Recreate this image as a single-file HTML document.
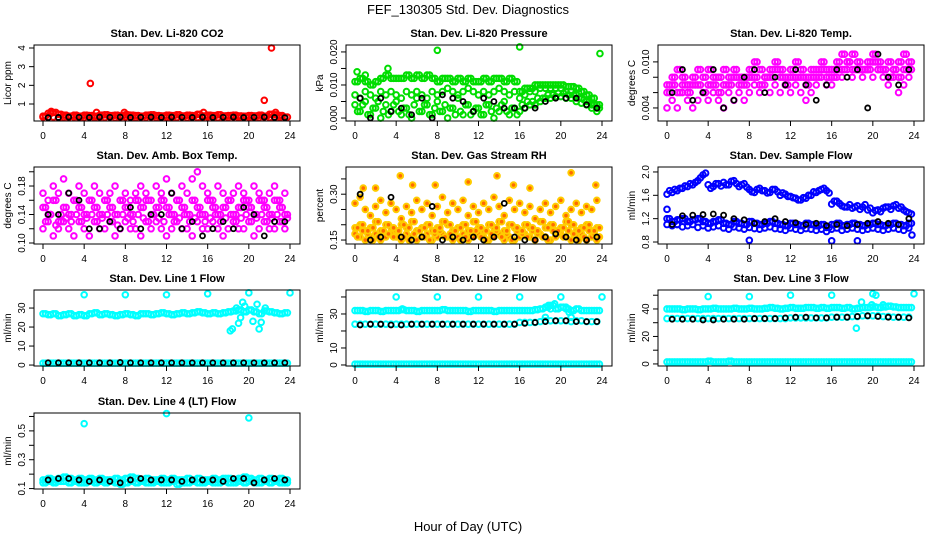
<!DOCTYPE html>
<html><head><meta charset="utf-8"><style>
html,body{margin:0;padding:0;background:#fff;width:936px;height:540px;overflow:hidden}
svg{display:block;font-family:"Liberation Sans",sans-serif}
</style></head><body>
<svg id="chart" width="936" height="540" viewBox="0 0 936 540">
<text x="468" y="14" text-anchor="middle" font-size="13">FEF_130305  Std. Dev. Diagnostics</text>
<text x="468" y="531" text-anchor="middle" font-size="13">Hour of Day (UTC)</text>
</svg>
<script>
const hours = [0,0.5,1,1.5,2,2.5,3,3.5,4,4.5,5,5.5,6,6.5,7,7.5,8,8.5,9,9.5,10,10.5,11,11.5,12,12.5,13,13.5,14,14.5,15,15.5,16,16.5,17,17.5,18,18.5,19,19.5,20,20.5,21,21.5,22,22.5,23,23.5];
const hoursB = [0.25,0.75,1.25,1.75,2.25,2.75,3.25,3.75,4.25,4.75,5.25,5.75,6.25,6.75,7.25,7.75,8.25,8.75,9.25,9.75,10.25,10.75,11.25,11.75,12.25,12.75,13.25,13.75,14.25,14.75,15.25,15.75,16.25,16.75,17.25,17.75,18.25,18.75,19.25,19.75,20.25,20.75,21.25,21.75,22.25,22.75,23.25,23.75];
const blackHours = [0.5,1.5,2.5,3.5,4.5,5.5,6.5,7.5,8.5,9.5,10.5,11.5,12.5,13.5,14.5,15.5,16.5,17.5,18.5,19.5,20.5,21.5,22.5,23.5];
const xTicks = [0,4,8,12,16,20,24];

// Panel 1: CO2
const co2A = [0.35,0.5,0.55,0.45,0.4,0.35,0.4,0.35,0.4,0.38,0.35,0.4,0.42,0.38,0.4,0.36,0.42,0.4,0.38,0.35,0.4,0.42,0.38,0.36,0.4,0.38,0.42,0.36,0.4,0.38,0.45,0.36,0.4,0.38,0.42,0.36,0.38,0.4,0.36,0.35,0.38,0.36,0.4,0.35,0.45,0.42,0.38,0.3];
const co2B = [0.3,0.28,0.3,0.27,0.29,0.28,0.3,0.27,0.28,0.3,0.27,0.29,0.28,0.3,0.27,0.28,0.3,0.28,0.27,0.29,0.28,0.3,0.27,0.28,0.29,0.27,0.28,0.3,0.27,0.29,0.28,0.27,0.3,0.28,0.27,0.29,0.28,0.3,0.27,0.28,0.29,0.27,0.28,0.3,0.28,0.27,0.29,0.28];
const co2OutX = [4.6,5.2,7.9,15.6,21.5,22.2,22.6,0.8];
const co2OutY = [2.1,0.55,0.55,0.55,1.2,4.0,0.55,0.6];
const co2Black = [0.27,0.28,0.3,0.29,0.28,0.3,0.29,0.3,0.28,0.29,0.3,0.28,0.3,0.29,0.28,0.3,0.28,0.29,0.3,0.28,0.29,0.3,0.28,0.27];

// Panel 2: Pressure
const presA = [0.011,0.012,0.011,0.01,0.011,0.012,0.013,0.012,0.012,0.012,0.013,0.012,0.013,0.012,0.013,0.012,0.011,0.012,0.012,0.011,0.012,0.011,0.012,0.011,0.011,0.012,0.011,0.012,0.012,0.011,0.012,0.011,0.008,0.009,0.009,0.01,0.01,0.01,0.01,0.01,0.01,0.0095,0.0095,0.009,0.008,0.007,0.006,0.004];
const presB = [0.007,0.006,0.008,0.007,0.006,0.008,0.007,0.008,0.007,0.006,0.008,0.007,0.008,0.007,0.006,0.008,0.007,0.008,0.009,0.008,0.007,0.008,0.009,0.008,0.007,0.008,0.007,0.008,0.009,0.008,0.007,0.008,0.006,0.007,0.008,0.008,0.009,0.009,0.009,0.009,0.009,0.008,0.008,0.007,0.006,0.005,0.004,0.003];
const presC = [0.004,0.002,0.005,0.001,0.003,0.0,0.004,0.002,0.005,0.001,0.003,0.0,0.006,0.002,0.004,0.001,0.005,0.002,0.0,0.003,0.006,0.001,0.004,0.002,0.003,0.001,0.004,0.0,0.002,0.005,0.001,0.003,0.002,0.003,0.004,0.004,0.005,0.006,0.006,0.0065,0.0065,0.006,0.006,0.005,0.0045,0.004,0.003,0.002];
const presD = [0.002,0.004,0.001,0.003,0.005,0.002,0.001,0.004,0.002,0.003,0.001,0.004,0.002,0.004,0.001,0.003,0.002,0.004,0.003,0.001,0.002,0.004,0.001,0.003,0.001,0.004,0.002,0.003,0.004,0.002,0.003,0.001,0.004,0.005,0.005,0.006,0.006,0.007,0.007,0.0075,0.0075,0.007,0.007,0.006,0.0055,0.005,0.004,0.003];
const presOutX = [0.2,8,16,23.8,3.2,1];
const presOutY = [0.014,0.0205,0.0215,0.0195,0.015,0.013];
const presBlack = [0.006,0.0,0.006,0.002,0.003,0.001,0.006,0.0,0.007,0.006,0.005,0.002,0.006,0.005,0.003,0.003,0.003,0.003,0.005,0.006,0.006,0.006,0.004,0.003];

// Panel 3: Li-820 Temp
const tempA = [0.007,0.008,0.009,0.008,0.007,0.008,0.009,0.008,0.009,0.008,0.008,0.009,0.008,0.009,0.008,0.008,0.009,0.01,0.009,0.008,0.009,0.01,0.009,0.008,0.009,0.01,0.009,0.008,0.009,0.009,0.01,0.009,0.009,0.01,0.011,0.01,0.011,0.01,0.009,0.01,0.011,0.01,0.009,0.01,0.009,0.01,0.011,0.01];
const tempB = [0.004,0.005,0.004,0.006,0.005,0.004,0.005,0.006,0.005,0.006,0.005,0.004,0.006,0.005,0.006,0.005,0.006,0.007,0.006,0.007,0.006,0.007,0.006,0.007,0.006,0.007,0.006,0.005,0.006,0.007,0.008,0.007,0.007,0.008,0.008,0.009,0.008,0.009,0.008,0.009,0.008,0.009,0.008,0.007,0.008,0.006,0.007,0.008];
const tempC = [0.006,0.007,0.006,0.007,0.006,0.007,0.007,0.006,0.007,0.007,0.006,0.007,0.007,0.008,0.007,0.007,0.008,0.008,0.007,0.008,0.008,0.009,0.008,0.007,0.008,0.008,0.008,0.007,0.008,0.008,0.009,0.008,0.008,0.009,0.009,0.01,0.009,0.009,0.009,0.009,0.01,0.009,0.009,0.008,0.009,0.008,0.009,0.009];
const tempBlack = [0.006,0.009,0.005,0.006,0.009,0.004,0.005,0.008,0.009,0.006,0.008,0.007,0.009,0.007,0.005,0.007,0.009,0.008,0.009,0.004,0.011,0.008,0.007,0.009];

// Panel 4: Amb Box Temp
const ambA = [0.15,0.14,0.16,0.13,0.15,0.14,0.16,0.15,0.14,0.16,0.15,0.14,0.16,0.15,0.14,0.16,0.15,0.14,0.16,0.15,0.16,0.14,0.15,0.16,0.15,0.14,0.16,0.15,0.14,0.16,0.15,0.14,0.16,0.15,0.14,0.15,0.16,0.14,0.15,0.16,0.15,0.14,0.16,0.15,0.14,0.16,0.15,0.14];
const ambB = [0.12,0.13,0.11,0.12,0.13,0.12,0.11,0.13,0.12,0.11,0.13,0.12,0.12,0.13,0.11,0.12,0.13,0.12,0.12,0.11,0.13,0.12,0.13,0.12,0.11,0.12,0.13,0.12,0.12,0.11,0.13,0.12,0.12,0.13,0.12,0.11,0.12,0.13,0.12,0.12,0.13,0.11,0.12,0.13,0.12,0.12,0.13,0.12];
const ambC = [0.17,0.16,0.18,0.17,0.19,0.17,0.16,0.18,0.17,0.16,0.18,0.17,0.16,0.17,0.18,0.16,0.17,0.16,0.17,0.18,0.17,0.16,0.18,0.17,0.19,0.17,0.16,0.18,0.17,0.19,0.2,0.18,0.17,0.16,0.18,0.17,0.16,0.17,0.18,0.17,0.16,0.18,0.17,0.16,0.17,0.18,0.16,0.17];
const ambD = [0.13,0.14,0.125,0.14,0.135,0.13,0.14,0.13,0.135,0.14,0.13,0.135,0.14,0.13,0.125,0.14,0.135,0.13,0.14,0.135,0.13,0.14,0.135,0.13,0.14,0.13,0.135,0.14,0.13,0.135,0.14,0.13,0.135,0.14,0.13,0.135,0.14,0.13,0.135,0.14,0.13,0.135,0.14,0.13,0.135,0.14,0.13,0.135];
const ambBlack = [0.14,0.14,0.17,0.16,0.12,0.12,0.13,0.12,0.15,0.12,0.14,0.14,0.17,0.12,0.13,0.11,0.12,0.13,0.12,0.15,0.14,0.11,0.13,0.13];

// Panel 5: Gas Stream RH
const rhA = [0.17,0.16,0.15,0.16,0.17,0.15,0.16,0.17,0.16,0.15,0.17,0.16,0.15,0.16,0.17,0.15,0.16,0.17,0.16,0.15,0.16,0.17,0.15,0.16,0.17,0.16,0.15,0.16,0.17,0.15,0.16,0.15,0.16,0.17,0.16,0.15,0.17,0.16,0.15,0.16,0.17,0.16,0.15,0.16,0.17,0.15,0.16,0.15];
const rhB = [0.19,0.2,0.18,0.19,0.21,0.18,0.2,0.19,0.18,0.2,0.19,0.21,0.18,0.19,0.2,0.18,0.19,0.21,0.2,0.18,0.19,0.2,0.18,0.21,0.19,0.18,0.2,0.19,0.21,0.18,0.2,0.19,0.18,0.2,0.19,0.18,0.21,0.19,0.2,0.18,0.19,0.21,0.2,0.18,0.19,0.2,0.18,0.19];
const rhC = [0.27,0.29,0.25,0.23,0.26,0.28,0.24,0.27,0.25,0.22,0.26,0.24,0.28,0.25,0.27,0.23,0.26,0.29,0.24,0.27,0.25,0.28,0.23,0.26,0.24,0.27,0.25,0.29,0.26,0.23,0.28,0.25,0.27,0.24,0.26,0.22,0.25,0.27,0.24,0.26,0.28,0.23,0.25,0.27,0.24,0.26,0.25,0.28];
const rhD = [0.16,0.18,0.17,0.15,0.16,0.18,0.17,0.16,0.18,0.16,0.15,0.17,0.18,0.16,0.15,0.17,0.18,0.16,0.17,0.18,0.15,0.16,0.17,0.18,0.16,0.15,0.17,0.18,0.16,0.17,0.15,0.18,0.17,0.16,0.18,0.17,0.16,0.15,0.18,0.17,0.16,0.18,0.17,0.15,0.16,0.18,0.17,0.16];
const rhOutX = [0.8,2,4.4,5.6,7.8,11,13.8,15.4,17,21,23.4];
const rhOutY = [0.32,0.32,0.36,0.33,0.33,0.34,0.36,0.33,0.32,0.37,0.33];
const rhBlack = [0.3,0.15,0.16,0.29,0.16,0.15,0.16,0.26,0.15,0.16,0.15,0.16,0.15,0.16,0.27,0.16,0.15,0.15,0.16,0.17,0.16,0.15,0.15,0.16];

// Panel 6: Sample Flow
const flowA = [1.62,1.65,1.68,1.72,1.75,1.78,1.85,1.95,1.78,1.75,1.8,1.82,1.78,1.85,1.75,1.8,1.7,1.65,1.72,1.68,1.65,1.7,1.6,1.62,1.58,1.55,1.52,1.55,1.6,1.65,1.7,1.68,1.45,1.5,1.42,1.4,1.38,1.42,1.4,1.35,1.3,1.35,1.38,1.4,1.42,1.38,1.35,1.3];
const flowB = [1.2,1.15,1.18,1.2,1.15,1.18,1.2,1.15,1.12,1.15,1.18,1.12,1.1,1.15,1.12,1.1,1.15,1.12,1.1,1.12,1.15,1.12,1.1,1.08,1.12,1.1,1.08,1.12,1.1,1.08,1.1,1.05,1.1,1.12,1.08,1.1,1.12,1.1,1.08,1.1,1.12,1.1,1.08,1.1,1.12,1.1,1.08,1.12];
const flowC = [1.1,1.08,1.1,1.06,1.08,1.1,1.05,1.08,1.04,1.06,1.08,1.04,1.02,1.06,1.04,1.02,1.05,1.03,1.02,1.04,1.06,1.03,1.02,1.0,1.04,1.02,1.0,1.03,1.02,1.0,1.02,0.98,1.02,1.04,1.0,1.02,1.04,1.02,1.0,1.02,1.04,1.02,1.0,1.02,1.04,1.02,1.0,1.04];
const flowD = [1.68,1.7,1.72,1.76,1.8,1.82,1.9,1.98,1.72,1.8,1.76,1.78,1.84,1.8,1.78,1.74,1.66,1.7,1.68,1.64,1.7,1.66,1.64,1.58,1.56,1.52,1.56,1.6,1.66,1.68,1.72,1.64,1.5,1.46,1.4,1.44,1.4,1.36,1.44,1.38,1.34,1.32,1.4,1.36,1.44,1.4,1.32,1.28];
const flowOutX = [8,16,18.5,23.8,0,1];
const flowOutY = [0.83,0.82,0.82,0.92,1.36,1.1];
const flowBlack = [1.1,1.25,1.26,1.27,1.28,1.26,1.2,1.18,1.12,1.15,1.2,1.15,1.13,1.1,1.12,1.08,1.1,1.08,1.1,1.12,1.15,1.12,1.1,1.2];

// Panel 7: Line 1 Flow
const l1A = [27,26.5,27,26,26.5,27,26,26.5,26,27,27.5,26.5,27,26.5,26,26.5,27,26.5,26,27,27,26.5,27,27.5,27,26.5,27,27.5,27,27.5,28,27.5,27,27.5,27,27.5,28,28.5,29,28,29,28,27,28.5,28,27.5,27,27.5];
const l1B = [1,1,1,1,1,1,1,1,1,1,1,1,1,1,1,1,1,1,1,1,1,1,1,1,1,1,1,1,1,1,1,1,1,1,1,1,1,1,1,1,1,1,1,1,1,1,1,1];
const l1OutX = [4,8,12,16,20,24,18.2,18.4,19,19.4,20.4,21,21.2,18.8,19.6,20.8,21.6,19.2];
const l1OutY = [37,37,37,37.5,38,38,18,19,22,33,23,19,22.5,30,31,32,30,25];
const l1Black = [1.2,1.2,1.2,1.2,1.2,1.2,1.2,1.4,1.2,1.2,1.2,1.2,1.2,1.2,1.2,1.2,1.2,1.2,1.2,1.2,1.2,1.2,1.2,1.2];

// Panel 8: Line 2 Flow
const l2A = [32,32,31.5,32,32,31.5,32,32,32,32.5,32,32,31.5,32,32,32,32,32.5,32,32,32,32,31.5,32,32,32,32,31.5,32,32,32,32,32,32,32,32.5,33,34,35,33,34,33,32,33,32,32,32,32];
const l2B = [24,24,24,24,24,24,24,24,24,24,24,24,24,24,24,24,24,24,24,24,24,24,24,24,24,24,24,24,24,24,24,24,25,25,25,25,25.5,26,26,26,26,26,25.5,26,26,25.5,25.5,25.5];
const l2C = [0.5,0.5,0.5,0.5,0.5,0.5,0.5,0.5,0.5,0.5,0.5,0.5,0.5,0.5,0.5,0.5,0.5,0.5,0.5,0.5,0.5,0.5,0.5,0.5,0.5,0.5,0.5,0.5,0.5,0.5,0.5,0.5,0.5,0.5,0.5,0.5,0.5,0.5,0.5,0.5,0.5,0.5,0.5,0.5,0.5,0.5,0.5,0.5];
const l2OutX = [4,8,12,16,20,24,18.5,18.8,19,19.4,20.5,20.8,21,4.6];
const l2OutY = [40,40,40,40,40,40,28,35,33,36,34,31,28,33];
const l2Black = [23.5,24,24,23.5,23.5,24,24,24,24,24,24,24,24,24,24,24,24.5,25,25.5,26,26,25.5,25.5,25.5];

// Panel 9: Line 3 Flow
const l3A = [40,40,40,39.5,40,40,39.5,40,40,40.5,40,40,40,40.5,40,40,40.5,40,40,40.5,41,40.5,40,40.5,41,40.5,40.5,41,41,40.5,41,40.5,41,41,40.5,41,40,40.5,41,41,41.5,41,41.5,42,41.5,41,41,41];
const l3B = [33,33,33,33,33,33,33,33,33,33,33,33,33,33,33,33,33,33,33,33,33,33,33,33,33.5,33.5,33.5,33.5,33.5,33.5,33.5,33.5,34,34,34,34,34.5,34.5,35,35,35,35,34.5,34.5,34,34,34,34];
const l3C = [1.5,1.5,1.5,1.5,1.5,1.5,1.5,1.5,2,1.5,1.5,1.5,2,1.5,1.5,1.5,1.5,1.5,1.5,1.5,1.5,1.5,1.5,1.5,1.5,1.5,1.5,1.5,1.5,1.5,1.5,1.5,1.5,1.5,1.5,1.5,1.5,1.5,1.5,1.5,1.5,1.5,1.5,1.5,1.5,1.5,1.5,1.5];
const l3OutX = [4,8,12,16,20,20.3,24,18.4,18.9,19.9,21];
const l3OutY = [49,49,50,50,51,50,51,26,45,43,43];
const l3Black = [32.5,32.5,32.5,32,32,32.5,32.5,32.5,33,33,33,33.5,34,34,33.5,33.5,34,34,34.5,35,34.5,34,34,33.5];

// Panel 10: Line 4 (LT) Flow
const l4A = [0.16,0.17,0.16,0.17,0.18,0.17,0.16,0.17,0.16,0.17,0.16,0.17,0.16,0.16,0.17,0.16,0.17,0.18,0.17,0.16,0.17,0.16,0.16,0.17,0.16,0.17,0.16,0.16,0.17,0.16,0.17,0.16,0.16,0.17,0.16,0.17,0.17,0.16,0.17,0.18,0.17,0.16,0.17,0.16,0.17,0.16,0.17,0.16];
const l4B = [0.14,0.15,0.14,0.15,0.15,0.14,0.15,0.14,0.14,0.15,0.14,0.15,0.14,0.15,0.14,0.13,0.14,0.15,0.14,0.15,0.14,0.14,0.15,0.14,0.14,0.15,0.13,0.14,0.14,0.15,0.14,0.14,0.15,0.14,0.14,0.15,0.14,0.14,0.15,0.14,0.15,0.14,0.14,0.15,0.14,0.15,0.14,0.14];
const l4OutX = [4,12,20];
const l4OutY = [0.55,0.62,0.59];
const l4Black = [0.16,0.17,0.17,0.16,0.15,0.16,0.15,0.14,0.16,0.17,0.16,0.16,0.16,0.15,0.16,0.16,0.16,0.15,0.17,0.17,0.14,0.16,0.17,0.16];

const NS = 'http://www.w3.org/2000/svg';
const svg = document.getElementById('chart');
function mk(tag, attrs, parent){ const e=document.createElementNS(NS,tag); for(const k in attrs) e.setAttribute(k,attrs[k]); (parent||svg).appendChild(e); return e; }

const panels = [
 {name:'co2', title:'Stan. Dev. Li-820 CO2', ylab:'Licor ppm', col:0,row:0, ymin:0.09,ymax:4.16, ticks:[1,2,3,4], labels:['1','2','3','4'], color:'#ff0000', fill:'none',
  series:[[hours,co2B],[hoursB,co2A],[hours,co2A],[co2OutX,co2OutY]], black:co2Black},
 {name:'pressure', title:'Stan. Dev. Li-820 Pressure', ylab:'kPa', col:1,row:0, ymin:-0.0009,ymax:0.0221, ticks:[0,0.005,0.01,0.015,0.02], labels:['0.000','','0.010','','0.020'], color:'#00dd00', fill:'none',
  series:[[hours,presA],[hours,presB],[hours,presC],[hoursB,presD],[hoursB,presA],[presOutX,presOutY]], black:presBlack},
 {name:'li820-temp', title:'Stan. Dev. Li-820 Temp.', ylab:'degrees C', col:2,row:0, ymin:0.0023,ymax:0.0122, ticks:[0.004,0.006,0.008,0.01], labels:['0.004','','','0.010'], color:'#ff00ff', fill:'none',
  series:[[hours,tempA],[hours,tempB],[hours,tempC],[hoursB,tempC],[hoursB,tempA]], black:tempBlack},
 {name:'amb-box-temp', title:'Stan. Dev. Amb. Box Temp.', ylab:'degrees C', col:0,row:1, ymin:0.0986,ymax:0.2067, ticks:[0.1,0.12,0.14,0.16,0.18,0.2], labels:['0.10','','0.14','','0.18',''], color:'#ff00ff', fill:'none',
  series:[[hours,ambA],[hours,ambB],[hours,ambC],[hoursB,ambD],[hoursB,ambA]], black:ambBlack},
 {name:'gas-stream-rh', title:'Stan. Dev. Gas Stream RH', ylab:'percent', col:1,row:1, ymin:0.137,ymax:0.389, ticks:[0.15,0.2,0.25,0.3,0.35], labels:['0.15','','','0.30',''], color:'#ffcc00', fill:'#ff6a00',
  series:[[hours,rhA],[hours,rhB],[hours,rhC],[hoursB,rhD],[hoursB,rhB],[rhOutX,rhOutY]], black:rhBlack},
 {name:'sample-flow', title:'Stan. Dev. Sample Flow', ylab:'ml/min', col:2,row:1, ymin:0.766,ymax:2.085, ticks:[0.8,1.2,1.6,2.0], labels:['0.8','1.2','1.6','2.0'], color:'#0000ff', fill:'none',
  series:[[hours,flowA],[hours,flowB],[hours,flowC],[hoursB,flowD],[hoursB,flowB],[flowOutX,flowOutY]], black:flowBlack},
 {name:'line1-flow', title:'Stan. Dev. Line 1 Flow', ylab:'ml/min', col:0,row:2, ymin:-0.5,ymax:39.5, ticks:[0,10,20,30], labels:['0','10','20','30'], color:'#00ffff', fill:'none',
  series:[[hours,l1A],[hours,l1B],[hoursB,l1A],[hoursB,l1B],[l1OutX,l1OutY]], black:l1Black},
 {name:'line2-flow', title:'Stan. Dev. Line 2 Flow', ylab:'ml/min', col:1,row:2, ymin:-0.6,ymax:44.1, ticks:[0,10,20,30,40], labels:['0','10','','30',''], color:'#00ffff', fill:'none',
  series:[[hours,l2A],[hours,l2B],[hours,l2C],[hoursB,l2A],[hoursB,l2C],[l2OutX,l2OutY]], black:l2Black},
 {name:'line3-flow', title:'Stan. Dev. Line 3 Flow', ylab:'ml/min', col:2,row:2, ymin:-1.5,ymax:53.8, ticks:[0,10,20,30,40,50], labels:['0','','20','','40',''], color:'#00ffff', fill:'none',
  series:[[hours,l3A],[hours,l3B],[hours,l3C],[hoursB,l3A],[hoursB,l3C],[l3OutX,l3OutY]], black:l3Black},
 {name:'line4-flow', title:'Stan. Dev. Line 4 (LT) Flow', ylab:'ml/min', col:0,row:3, ymin:0.097,ymax:0.624, ticks:[0.1,0.2,0.3,0.4,0.5,0.6], labels:['0.1','','0.3','','0.5',''], color:'#00ffff', fill:'none',
  series:[[hours,l4A],[hours,l4B],[hoursB,l4A],[hoursB,l4B],[l4OutX,l4OutY]], black:l4Black}
];
const rowTops = [45,167,290,413];
const rowBots = [121,244,366,489];

panels.forEach(p=>{
  const L = 34 + p.col*312, R = 300 + p.col*312;
  const T = rowTops[p.row], B = rowBots[p.row];
  const xs = v => L + 9 + (v/24)*(R-L-19);
  const ys = v => B - (v - p.ymin)/(p.ymax - p.ymin)*(B-T);
  const g = mk('g',{});
  
  
  const t = mk('text',{x:(L+R)/2,y:T-8,'text-anchor':'middle','font-size':'11','font-weight':'bold'},g);
  t.textContent = p.title;
  
  
  const yl = mk('text',{x:0,y:0,'text-anchor':'middle','font-size':'10',transform:`translate(${L-23},${(T+B)/2}) rotate(-90)`},g);
  yl.textContent = p.ylab;
  
  
  const pts = mk('g',{fill:p.fill,stroke:p.color,'stroke-width':'2'},g);
  
  
  p.series.forEach(s=>{
    s[0].forEach((x,i)=>{
      const c = mk('circle',{cx:xs(x),cy:ys(s[1][i]),r:2.8},pts);
      
      
    });
  });
  const bk = mk('g',{fill:'none',stroke:'#000','stroke-width':'1.8'},g);
  
  
  blackHours.forEach((x,i)=>{
    const c = mk('circle',{cx:xs(x),cy:ys(p.black[i]),r:2.5},bk);
    
    
  });
  const box = mk('rect',{x:L,y:T,width:R-L,height:B-T,fill:'none',stroke:'#000','stroke-width':'1'},g);
  
  
  const xa = mk('g',{stroke:'#000','stroke-width':'1'},g);
  
  
  mk('line',{x1:xs(0),x2:xs(24),y1:B,y2:B},xa);
  xTicks.forEach(v=>{
    mk('line',{x1:xs(v),x2:xs(v),y1:B,y2:B+5},xa);
    const tl = mk('text',{x:xs(v),y:B+18,'text-anchor':'middle','font-size':'10',stroke:'none',fill:'#000'},xa);
    tl.textContent = v;
    
    
  });
  const ya = mk('g',{stroke:'#000','stroke-width':'1'},g);
  
  
  mk('line',{x1:L,x2:L,y1:ys(p.ticks[0]),y2:ys(p.ticks[p.ticks.length-1])},ya);
  p.ticks.forEach((v,i)=>{
    const y = ys(v);
    mk('line',{x1:L-5,x2:L,y1:y,y2:y},ya);
    if(p.labels[i]){
      const tl = mk('text',{x:0,y:0,'text-anchor':'middle','font-size':'10',stroke:'none',fill:'#000',transform:`translate(${L-9},${y}) rotate(-90)`},ya);
      tl.textContent = p.labels[i];
      
      
    }
  });
});
</script>
</body></html>
